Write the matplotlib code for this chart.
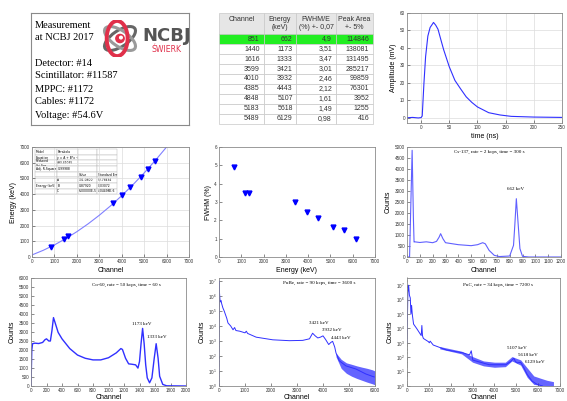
import numpy as np
import matplotlib
matplotlib.use("Agg")
from matplotlib import pyplot as plt
from matplotlib.patches import Ellipse, Circle

# ---- data ----
info_lines = ["Detector: #14", "Scintillator: #11587", "MPPC: #1172",
              "Cables: #1172", "Voltage: #54.6V"]

tab_header = ["Channel\n ", "Energy\n(keV)", "FWHM/E\n(%) +- 0,07", "Peak Area\n+- 5%"]
tab_channel = [851, 1440, 1616, 3599, 4010, 4385, 4848, 5183, 5489]
tab_energy = [662, 1173, 1333, 3421, 3932, 4443, 5107, 5618, 6129]
tab_fwhm = ["4,9", "3,51", "3,47", "3,01", "2,46", "2,12", "1,61", "1,49", "0,98"]
tab_area = [114846, 138081, 131495, 285217, 99859, 76301, 3952, 1255, 416]
fwhm_vals = [4.9, 3.51, 3.47, 3.01, 2.46, 2.12, 1.61, 1.49, 0.98]

pulse_t = [-25, -15, -5, 0, 2, 5, 8, 12, 16, 20, 22, 26, 30, 35, 40, 50, 60, 70,
           80, 90, 100, 120, 140, 160, 200, 250]
pulse_mv = [0.0, 0.2, -0.1, 0.1, 1.0, 19.5, 35.0, 46.8, 51.7, 53.6, 54.6, 53.0, 50.7,
            44.8, 39.0, 29.2, 21.4, 16.6, 12.0, 8.8, 6.2, 2.9, 1.6, 0.8, 0.4, 0.2]

fit_ch = [0, 500, 1000, 1500, 2000, 2500, 3000, 3500, 4000, 4500, 5000, 5500, 6000, 6100]
fit_e = [131, 425, 770, 1166, 1611, 2108, 2655, 3252, 3900, 4598, 5349, 6148, 7000, 7180]

cs_ch = [0, 20, 40, 50, 55, 60, 100, 150, 200, 230, 250, 262, 280, 300, 400, 500,
         550, 590, 610, 640, 680, 720, 800, 830, 840, 852, 865, 880, 900, 950, 1200]
cs_counts = [0, 0, 4850, 1740, 680, 690, 660, 690, 650, 710, 900, 1060, 830, 650, 560,
             515, 560, 650, 600, 300, 75, 20, 45, 530, 1440, 2650, 1590, 380, 30, 0, 0]

co_ch = [0, 10, 20, 50, 100, 150, 180, 200, 230, 250, 270, 290, 310, 350, 400, 500,
         600, 700, 800, 900, 1000, 1100, 1160, 1180, 1220, 1260, 1300, 1350, 1380,
         1400, 1420, 1440, 1460, 1480, 1500, 1530, 1560, 1590, 1615, 1640, 1660,
         1700, 1750, 2000]
co_counts = [0, 1990, 2350, 2380, 2360, 2420, 2570, 2620, 2500, 2500, 3070, 3800, 3530,
             2980, 2620, 2080, 1720, 1540, 1450, 1450, 1570, 1840, 2080, 2030, 1540,
             1230, 1210, 1175, 995, 1360, 2350, 3200, 2350, 1175, 450, 180, 450, 1540,
             2350, 1540, 540, 90, 10, 0]

pube_ch = [0, 10, 20, 35, 50, 80, 100, 150, 200, 300, 345, 450, 540, 600, 650, 800,
           1000, 1050, 1100, 1430, 2070, 2710, 3220, 3480, 3600, 3700, 3800, 3900,
           4000, 4100, 4220, 4300, 4370, 4450, 4500, 4630, 4880, 5270, 5650, 5970]
pube_counts = [1, 1.0e7, 1.6e6, 6.3e5, 4.0e5, 5.0e5, 3.2e5, 1.6e5, 1.0e5, 3.2e4, 1.6e4,
               1.0e4, 5.6e3, 7.9e3, 5.0e3, 4.5e3, 3.5e3, 4.5e3, 3.2e3, 1.8e3, 1.2e3,
               1.05e3, 1.1e3, 1.4e3, 3.3e3, 2.2e3, 1.6e3, 1.8e3, 2.2e3, 1.26e3, 5.8e2,
               8.0e2, 9.5e2, 4.0e2, 1.6e2, 47, 22, 13.5, 6.3, 4]
pube_tail_ch = [4500, 4700, 4900, 5100, 5300, 5500, 5700, 5900, 6000]
pube_tail_hi = [160, 60, 35, 28, 22, 18, 15, 12, 10]
pube_tail_lo = [90, 15, 7, 4.5, 3.2, 2.4, 1.8, 1.4, 1.2]

puc_ch = [0, 40, 75, 110, 150, 180, 210, 240, 300, 450, 650, 680, 710, 750, 980, 1020,
          1060, 1200, 1800, 2560, 2860, 2940, 3010, 3760, 4520, 4740, 4890, 4960,
          5050, 5200, 5350, 5500, 5720, 5950, 6200]
puc_counts = [1e3, 3e6, 1e7, 2e6, 1.3e6, 1e5, 4e5, 1e5, 2e4, 9.5e3, 3.2e3, 1.6e4, 3e3,
              2e3, 1.2e3, 1.0e3, 1.3e3, 7e2, 3.2e2, 2e2, 1.45e2, 2.8e2, 63, 30, 30, 50,
              85, 50, 40, 44, 18, 6.3, 2.2, 1.3, 1]
puc_tail_ch = [1500, 2500, 3000, 3500, 4000, 4500, 4800, 5200, 5500, 5800, 6100, 6400, 6700]
puc_tail_hi = [550, 260, 110, 55, 45, 45, 110, 65, 18, 5, 3.5, 2.5, 2]
puc_tail_lo = [380, 170, 45, 25, 20, 22, 55, 28, 4, 1.3, 1.1, 1, 1]

# ---- figure ----
W, H = 567, 401
fig = plt.figure(figsize=(W / 100, H / 100), dpi=100)
BLUE = "#3030ff"
LBLUE = "#6060ff"
SERIF = "Liberation Serif"
SANS = "Liberation Sans"


def px_axes(l, t, r, b):
    return fig.add_axes([l / W, 1 - b / H, (r - l) / W, (b - t) / H])


def style(ax, xlabel, ylabel, grid=False):
    for s in ax.spines.values():
        s.set_color("#8a8a8a")
        s.set_linewidth(0.6)
    ax.tick_params(direction="in", length=2, width=0.4, labelsize=3.3, pad=1.5,
                   colors="#333333")
    ax.tick_params(which="minor", direction="in", length=1, width=0.3)
    for lab in ax.get_xticklabels() + ax.get_yticklabels():
        lab.set_family(SANS)
    ax.set_xlabel(xlabel, fontsize=5, family=SANS, labelpad=2)
    ax.set_ylabel(ylabel, fontsize=5, family=SANS, labelpad=2)
    if grid:
        ax.grid(True, color="#dcdcdc", lw=0.5)
        ax.set_axisbelow(True)


# info box
info = px_axes(31, 13, 189, 125)
info.set_xticks([])
info.set_yticks([])
for s in info.spines.values():
    s.set_color("#8a8a8a")
    s.set_linewidth(0.8)
fig.text(35 / W, 1 - 25 / H, "Measurement", family=SERIF, fontsize=7.5, va="center")
fig.text(35 / W, 1 - 37 / H, "at NCBJ 2017", family=SERIF, fontsize=7.5, va="center")
for i, line in enumerate(info_lines):
    fig.text(35 / W, 1 - (63 + 13 * i) / H, line, family=SERIF, fontsize=7.5, va="center")

# logo
logo = px_axes(101, 20, 139, 57)
logo.set_xlim(-1, 1)
logo.set_ylim(-1, 1)
logo.axis("off")
logo.add_patch(Ellipse((0, 0), 1.9, 0.85, angle=35, fill=False, ec="#666666", lw=2.2))
logo.add_patch(Ellipse((0, 0), 1.9, 0.85, angle=-35, fill=False, ec="#9a9a9a", lw=2.2))
logo.add_patch(Ellipse((-0.15, 0), 1.1, 1.9, angle=0, fill=False, ec="#e0304a", lw=2.8))
logo.add_patch(Circle((0, 0), 0.22, color="#e0304a"))
logo.add_patch(Circle((0.05, 0.05), 0.07, color="white"))
fig.text(167 / W, 1 - 36 / H, "NCBJ", family="DejaVu Sans", fontweight="bold",
         fontsize=13, color="#555555", ha="center", va="center")
fig.text(167 / W, 1 - 50 / H, "ŚWIERK", family="DejaVu Sans", fontsize=5.6,
         color="#e0304a", ha="center", va="center")

# table
tax = px_axes(219, 13, 373, 124)
tax.axis("off")
rows = [[str(c), str(e), f, str(a)] for c, e, f, a in
        zip(tab_channel, tab_energy, tab_fwhm, tab_area)]
table = tax.table(cellText=rows, colLabels=tab_header, loc="center",
                  cellLoc="right", colLoc="center", bbox=[0, 0, 1, 1],
                  colWidths=[45, 32, 40, 37])
table.auto_set_font_size(False)
for (r, c), cell in table.get_celld().items():
    cell.set_edgecolor("#c8c8c8")
    cell.set_linewidth(0.5)
    cell.get_text().set_fontsize(5)
    cell.get_text().set_family(SANS)
    cell.get_text().set_color("#333333")
    if r == 0:
        cell.set_height(2.1)
        cell.set_facecolor("#e6e6e6")
    else:
        cell.set_height(1.0)
    if r == 1:
        cell.set_facecolor("#22ee22")

# pulse
ax = px_axes(407, 13, 562, 123)
ax.plot(pulse_t, pulse_mv, color=BLUE, lw=0.8)
ax.set_xlim(-25, 250)
ax.set_ylim(-3, 60)
ax.set_xticks([0, 50, 100, 150, 200, 250])
ax.set_yticks([0, 10, 20, 30, 40, 50, 60])
style(ax, "time (ns)", "Amplitude (mV)", grid=True)

# energy calibration
ax = px_axes(32, 147, 189, 257)
ax.plot(fit_ch, fit_e, color="#8080ff", lw=0.8)
ax.plot(tab_channel, tab_energy, "v", color="blue", ms=3.5)
ax.set_xlim(0, 7000)
ax.set_ylim(0, 7000)
ax.set_xticks(range(0, 7001, 1000))
ax.set_yticks(range(0, 7001, 1000))
style(ax, "Channel", "Energy (keV)", grid=True)
fit_rows = [["Model", "Parabola", "", ""],
            ["Equation", "y = A + B*x + C*x^2", "", ""],
            ["Reduced\nChi-Sqr", "493.41035", "", ""],
            ["Adj. R-Square", "0.99988", "", ""],
            ["", "", "Value", "Standard Err"],
            ["", "A", "131.0800", "52.78434"],
            ["Energy (keV)", "B", "0.87920", "0.03072"],
            ["", "C", "6.00000E-5", "4.04498E-6"]]
ft = ax.table(cellText=fit_rows, cellLoc="left", bbox=[0.02, 0.57, 0.52, 0.41],
              colWidths=[1, 1, 0.9, 0.9])
ft.auto_set_font_size(False)
for (r, c), cell in ft.get_celld().items():
    cell.set_edgecolor("#b0b0b0")
    cell.set_linewidth(0.3)
    cell.set_facecolor("white")
    cell.get_text().set_fontsize(2.2)
    cell.PAD = 0.03

# FWHM
ax = px_axes(219, 147, 375, 257)
ax.plot(tab_energy, fwhm_vals, "v", color="blue", ms=3.5)
ax.set_xlim(0, 7000)
ax.set_ylim(0, 6)
ax.set_xticks(range(0, 7001, 1000))
style(ax, "Energy (keV)", "FWHM (%)")

# Cs-137
ax = px_axes(407, 147, 561, 257)
ax.plot(cs_ch, cs_counts, color=LBLUE, lw=0.8)
ax.set_xlim(0, 1200)
ax.set_ylim(0, 5000)
ax.set_xticks(range(0, 1201, 100))
ax.set_yticks(range(0, 5001, 500))
style(ax, "Channel", "Counts")
ax.text(365, 4770, "Cs-137, rate = 2 kcps, time = 300 s", family=SERIF, fontsize=3.6,
        va="center")
ax.text(783, 3075, "662 keV", family=SERIF, fontsize=3.6, va="center")

# Co-60
ax = px_axes(31, 278, 186, 386)
ax.plot(co_ch, co_counts, color=BLUE, lw=1.0)
ax.set_xlim(0, 2000)
ax.set_ylim(0, 6000)
ax.set_xticks(range(0, 2001, 200))
ax.set_yticks(range(0, 6001, 500))
style(ax, "Channel", "Counts")
ax.xaxis.labelpad = 0.5
ax.text(790, 5600, "Co-60, rate = 50 kcps, time = 60 s", family=SERIF, fontsize=3.6,
        va="center")
ax.text(1300, 3470, "1173 keV", family=SERIF, fontsize=3.6, va="center")
ax.text(1500, 2750, "1333 keV", family=SERIF, fontsize=3.6, va="center")

# PuBe
ax = px_axes(219, 278, 375, 386)
ax.fill_between(pube_tail_ch, pube_tail_lo, pube_tail_hi, color=BLUE, lw=0, alpha=0.75)
ax.plot(pube_ch, pube_counts, color=BLUE, lw=0.7)
ax.set_yscale("log")
ax.set_xlim(0, 6000)
ax.set_ylim(1, 10 ** 7.2)
ax.set_xticks(range(0, 6001, 1000))
ax.set_yticks([10.0 ** k for k in range(8)])
style(ax, "Channel", "Counts")
ax.xaxis.labelpad = 0.5
ax.text(2450, 10 ** 6.85, "PuBe, rate = 90 kcps, time = 3600 s", family=SERIF,
        fontsize=3.6, va="center")
ax.text(3480, 10 ** 4.17, "3421 keV", family=SERIF, fontsize=3.6, va="center")
ax.text(3960, 10 ** 3.74, "3932 keV", family=SERIF, fontsize=3.6, va="center")
ax.text(4310, 10 ** 3.2, "4443 keV", family=SERIF, fontsize=3.6, va="center")

# PuC
ax = px_axes(407, 278, 560, 386)
ax.fill_between(puc_tail_ch, puc_tail_lo, puc_tail_hi, color=BLUE, lw=0, alpha=0.75)
ax.plot(puc_ch, puc_counts, color=BLUE, lw=0.7)
ax.set_yscale("log")
ax.set_xlim(0, 7000)
ax.set_ylim(1, 10 ** 7.5)
ax.set_xticks(range(0, 7001, 1000))
ax.set_yticks([10.0 ** k for k in range(8)])
style(ax, "Channel", "Counts")
ax.xaxis.labelpad = 0.5
ax.text(2560, 10 ** 7.05, "PuC, rate = 34 kcps, time = 7200 s", family=SERIF,
        fontsize=3.6, va="center")
ax.text(4590, 10 ** 2.66, "5107 keV", family=SERIF, fontsize=3.6, va="center")
ax.text(5090, 10 ** 2.16, "5618 keV", family=SERIF, fontsize=3.6, va="center")
ax.text(5420, 10 ** 1.7, "6129 keV", family=SERIF, fontsize=3.6, va="center")

fig.savefig("out.png", dpi=100)
